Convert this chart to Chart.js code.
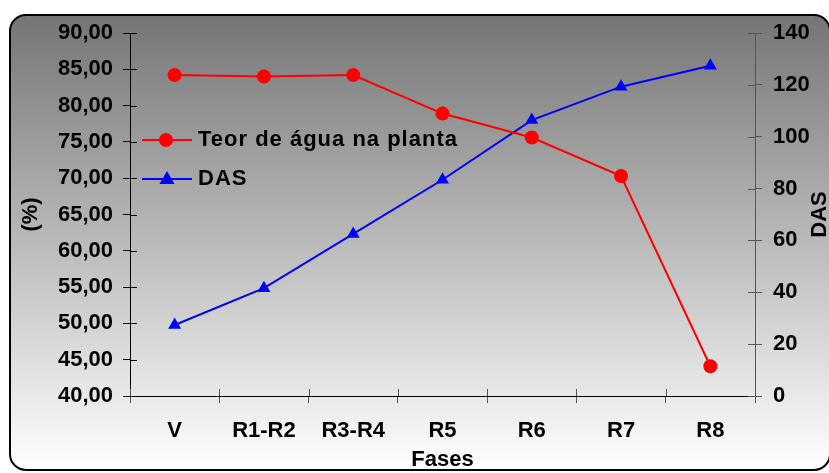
<!DOCTYPE html>
<html><head><meta charset="utf-8">
<script src="https://cdn.jsdelivr.net/npm/chart.js@4/dist/chart.umd.min.js"></script>
<style>html,body{margin:0;padding:0;background:#fff}#wrap{width:829px;height:473px}</style>
</head><body><div id="wrap"><canvas id="c" width="829" height="473"></canvas></div>
<script>
const categories = ['V', 'R1-R2', 'R3-R4', 'R5', 'R6', 'R7', 'R8'];
const teorAgua = [84.2, 84.0, 84.2, 78.9, 75.6, 70.3, 44.1];
const das = [27.4, 41.6, 62.5, 83.4, 106.4, 119.3, 127.4];
const seriesNames = ['Teor de água na planta', 'DAS'];
const axisTitles = { x: 'Fases', left: '(%)', right: 'DAS' };

const FONT = "'Liberation Sans', Arial, sans-serif";
const FS = 22;

const bgPlugin = {
  id: 'bg',
  beforeDraw(chart) {
    const ctx = chart.ctx;
    const x = 10, y = 15, w = 830, h = 455, r = 16;
    ctx.save();
    const g = ctx.createLinearGradient(0, y, 0, y + h);
    g.addColorStop(0, '#757575');
    g.addColorStop(1, '#ffffff');
    ctx.beginPath();
    ctx.roundRect(x, y, w - x, h, r);
    ctx.fillStyle = g;
    ctx.fill();
    ctx.lineWidth = 2;
    ctx.strokeStyle = '#000';
    ctx.stroke();
    ctx.restore();
  }
};

const extraPlugin = {
  id: 'extra',
  afterDraw(chart) {
    const ctx = chart.ctx;
    const ca = chart.chartArea;
    ctx.save();
    const yl = chart.scales.y, yr = chart.scales.y2;
    ctx.lineWidth = 1;
    ctx.strokeStyle = '#000';
    yl.ticks.forEach(t => {
      const p = Math.round(yl.getPixelForValue(t.value)) + 0.5;
      ctx.beginPath(); ctx.moveTo(ca.left, p); ctx.lineTo(ca.left + 7, p); ctx.stroke();
    });
    ctx.strokeStyle = '#555';
    yr.ticks.forEach(t => {
      const p = Math.round(yr.getPixelForValue(t.value)) + 0.5;
      ctx.beginPath(); ctx.moveTo(ca.right - 7, p); ctx.lineTo(ca.right, p); ctx.stroke();
    });
    const n = categories.length;
    for (let i = 0; i <= n; i++) {
      const p = Math.round(ca.left + (ca.right - ca.left) * i / n) + 0.5;
      ctx.beginPath(); ctx.moveTo(p, ca.bottom - 7); ctx.lineTo(p, ca.bottom); ctx.stroke();
    }
    ctx.fillStyle = '#000';
    ctx.font = 'bold ' + FS + 'px ' + FONT;
    ctx.textAlign = 'center';
    ctx.textBaseline = 'middle';
    ctx.translate(chart.width - 9, (ca.top + ca.bottom) / 2);
    ctx.rotate(-Math.PI / 2);
    ctx.fillText(axisTitles.right, 0, 0);
    ctx.restore();

    ctx.save();
    const items = [
      { y: 140, color: '#ff0000', style: 'circle' },
      { y: 179, color: '#0000ff', style: 'triangle' }
    ];
    items.forEach((it, i) => {
      ctx.strokeStyle = it.color;
      ctx.fillStyle = it.color;
      ctx.lineWidth = 2;
      ctx.beginPath(); ctx.moveTo(142, it.y); ctx.lineTo(192, it.y); ctx.stroke();
      if (it.style === 'circle') {
        ctx.beginPath(); ctx.arc(166, it.y, 7, 0, Math.PI * 2); ctx.fill();
      } else {
        ctx.beginPath(); ctx.moveTo(167, it.y - 8); ctx.lineTo(174.5, it.y + 5); ctx.lineTo(159.5, it.y + 5); ctx.closePath(); ctx.fill();
      }
      ctx.fillStyle = '#000';
      ctx.font = 'bold ' + FS + 'px ' + FONT;
      ctx.letterSpacing = '1px';
      ctx.textAlign = 'left';
      ctx.textBaseline = 'middle';
      ctx.fillText(seriesNames[i], 198, it.y);
    });
    ctx.restore();
  }
};

new Chart(document.getElementById('c'), {
  type: 'line',
  data: {
    labels: categories,
    datasets: [
      {
        label: seriesNames[0], data: teorAgua, yAxisID: 'y',
        borderColor: '#ff0000', backgroundColor: '#ff0000', borderWidth: 2,
        pointStyle: 'circle', pointRadius: 7, pointBorderWidth: 0, tension: 0
      },
      {
        label: seriesNames[1], data: das, yAxisID: 'y2',
        borderColor: '#0000ff', backgroundColor: '#0000ff', borderWidth: 2,
        pointStyle: 'triangle', pointRadius: 7.5, pointBorderWidth: 0, tension: 0
      }
    ]
  },
  options: {
    responsive: false,
    animation: false,
    layout: { padding: { left: 0, right: 0, top: 33, bottom: 0 } },
    plugins: { legend: { display: false }, tooltip: { enabled: false } },
    scales: {
      x: {
        offset: true,
        afterFit(s) { s.height = 77; },
        grid: { display: true, offset: true, drawOnChartArea: false, tickLength: 7, color: '#555', tickColor: '#555' },
        border: { display: true, color: '#000', width: 1 },
        ticks: { color: '#000', font: { family: FONT, size: FS, weight: 'bold' }, padding: 15 },
        title: { display: true, text: axisTitles.x, color: '#000', font: { family: FONT, size: FS, weight: 'bold', lineHeight: 1 }, padding: { top: 0, bottom: 2 } }
      },
      y: {
        position: 'left', min: 40, max: 90,
        afterFit(s) { s.width = 130; },
        grid: { drawOnChartArea: false, tickLength: 7, color: '#000', tickColor: '#000' },
        border: { display: true, color: '#000', width: 1 },
        ticks: { stepSize: 5, color: '#000', padding: 10, font: { family: FONT, size: FS, weight: 'bold' },
          callback: v => v.toFixed(2).replace('.', ',') },
        title: { display: true, text: axisTitles.left, color: '#000', font: { family: FONT, size: FS, weight: 'bold', lineHeight: 1 }, padding: { top: 20, bottom: 0 } }
      },
      y2: {
        position: 'right', min: 0, max: 140,
        afterFit(s) { s.width = 74; },
        grid: { drawOnChartArea: false, tickLength: 7, color: '#555', tickColor: '#555' },
        border: { display: true, color: '#555', width: 1 },
        ticks: { stepSize: 20, color: '#000', padding: 11, font: { family: FONT, size: FS, weight: 'bold' } },
        title: { display: false }
      }
    }
  },
  plugins: [bgPlugin, extraPlugin]
});
</script>
</body></html>
